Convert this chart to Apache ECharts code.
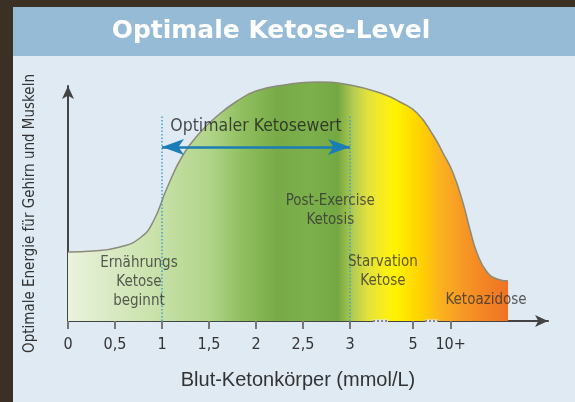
<!DOCTYPE html>
<html>
<head>
<meta charset="utf-8">
<script src="https://cdn.jsdelivr.net/npm/echarts@6/dist/echarts.min.js"></script>
<style>
html,body{margin:0;padding:0;background:#3a3124;}
#c{width:575px;height:402px;}
</style>
</head>
<body>
<div id="c"></div>
<script>
// ---- data ----
const titleText = 'Optimale Ketose-Level';
const xAxisName = 'Blut-Ketonkörper (mmol/L)';
const yAxisName = 'Optimale Energie für Gehirn und Muskeln';
// tick positions on the (non-linear) axis and their labels
const tickPos = [0, 0.5, 1, 1.5, 2, 2.5, 3, 3.67, 4.07];
const tickLabels = ['0', '0,5', '1', '1,5', '2', '2,5', '3', '5', '10+'];
// energy curve (axis position, relative energy)
const curveX = [0, 0.266, 0.553, 0.766, 0.904, 1.053, 1.223, 1.400, 1.600, 1.800, 2.000, 2.300, 2.649, 3.0, 3.351, 3.532, 3.713, 3.883, 3.989, 4.096, 4.202, 4.277, 4.351, 4.457, 4.564, 4.681];
const curveY = [69, 70, 74, 83, 99, 133, 166, 188, 206, 220, 230, 236, 239, 236, 227, 219, 208, 186, 168, 148, 118, 91, 68, 49, 42, 40];
// optimal range
const optimalRange = [1, 3];
const optimalLabel = 'Optimaler Ketosewert';
const rangeTop = 206;
const arrowLevel = 174;
// axis break markers
const breaks = [[3.245, 3.404], [3.798, 3.936]];
// zone annotations
const zoneText = ['Ernährungs\nKetose\nbeginnt', 'Post-Exercise\nKetosis', 'Starvation\nKetose', 'Ketoazidose'];
const zoneX = [0.755, 2.79, 3.35, 4.447];
const zoneY = [39, 110, 49, 21];

const FONT = '"Liberation Sans Narrow", "DejaVu Sans Condensed", "Liberation Sans", sans-serif';

const chart = echarts.init(document.getElementById('c'));

const curveData = curveX.map((x, i) => [x, curveY[i]]);

const series = [
  {
    type: 'line',
    data: curveData,
    smooth: 0.5,
    symbol: 'none',
    clip: false,
    z: 2,
    lineStyle: { color: '#8c8a78', width: 1.5 },
    areaStyle: {
      opacity: 1,
      color: new echarts.graphic.LinearGradient(0, 0, 1, 0, [
        { offset: 0, color: '#eaf2dc' },
        { offset: 0.214, color: '#c6e0a6' },
        { offset: 0.323, color: '#b0d488' },
        { offset: 0.399, color: '#8fbe5e' },
        { offset: 0.476, color: '#78ab47' },
        { offset: 0.551, color: '#7cb04c' },
        { offset: 0.613, color: '#74a842' },
        { offset: 0.649, color: '#b6cc52' },
        { offset: 0.681, color: '#e2e23c' },
        { offset: 0.722, color: '#fbee18' },
        { offset: 0.745, color: '#fff200' },
        { offset: 0.802, color: '#ffd200' },
        { offset: 0.847, color: '#fbb21e' },
        { offset: 0.893, color: '#f79a26' },
        { offset: 0.938, color: '#f48824' },
        { offset: 1, color: '#ef7322' }
      ])
    }
  }
];

optimalRange.forEach(v => {
  series.push({
    type: 'line',
    data: [[v, 0], [v, rangeTop]],
    symbol: 'none',
    z: 3,
    lineStyle: { color: '#3aa3cf', width: 1.5, type: [1.5, 2] }
  });
});

// double arrow
series.push({
  type: 'line',
  data: [],
  z: 4,
  markLine: {
    silent: true,
    symbol: ['arrow', 'arrow'],
    symbolSize: [12, 22],
    label: { show: false },
    lineStyle: { color: '#1a7db5', width: 2.5, type: 'solid' },
    data: [[{ coord: [optimalRange[0], arrowLevel] }, { coord: [optimalRange[1], arrowLevel] }]]
  }
});

// axis breaks
breaks.forEach(b => {
  series.push({
    type: 'line', data: [[b[0], 0], [b[1], 0]], symbol: 'none', z: 5, clip: false,
    lineStyle: { color: '#e0eaf3', width: 3 }
  });
  series.push({
    type: 'line', data: [[b[0], 0], [b[1], 0]], symbol: 'none', z: 6, clip: false,
    lineStyle: { color: '#8a8a8a', width: 2, type: [2, 2] }
  });
});

// annotations
series.push({
  type: 'scatter',
  symbolSize: 0,
  z: 7,
  clip: false,
  data: zoneX.map((x, i) => ({ value: [x, zoneY[i]], name: zoneText[i] })),
  label: {
    show: true,
    position: 'inside',
    formatter: p => p.name,
    fontFamily: FONT,
    fontSize: 15,
    lineHeight: 19,
    color: '#333',
    align: 'center',
    verticalAlign: 'middle'
  }
});
series.push({
  type: 'scatter',
  symbolSize: 0,
  z: 7,
  clip: false,
  data: [{ value: [(optimalRange[0] + optimalRange[1]) / 2, 195], name: optimalLabel }],
  label: {
    show: true,
    position: 'inside',
    formatter: p => p.name,
    fontFamily: FONT,
    fontSize: 17.5,
    color: '#1e1e1e',
    align: 'center',
    verticalAlign: 'middle'
  }
});

const option = {
  backgroundColor: '#3a3124',
  animation: false,
  graphic: [
    { type: 'rect', z: -10, shape: { x: 13, y: 7, width: 562, height: 395 }, style: { fill: '#e0eaf3' } },
    { type: 'rect', z: -9, shape: { x: 13, y: 7, width: 562, height: 49 }, style: { fill: '#96bbd6' } },
    { type: 'text', z: 10, x: 271, y: 31,
      style: { text: titleText, fill: '#ffffff', align: 'center', verticalAlign: 'middle',
               textAlign: 'center', textVerticalAlign: 'middle',
               font: 'bold 25px "DejaVu Sans", "Liberation Sans", Arial, sans-serif' } }
  ],
  grid: { left: 68, right: 27, top: 86, bottom: 81 },
  xAxis: {
    type: 'value',
    min: 0,
    max: 5.106,
    name: xAxisName,
    nameLocation: 'middle',
    nameGap: 49,
    nameTextStyle: { fontFamily: '"Liberation Sans", Arial, sans-serif', fontSize: 20, color: '#333', padding: [0, 20, 0, 0] },
    splitLine: { show: false },
    axisLine: { show: true, lineStyle: { color: '#444', width: 2 }, symbol: ['none', 'arrow'], symbolSize: [9, 13] },
    axisTick: { show: true, length: 8, lineStyle: { color: '#777', width: 2 }, customValues: tickPos },
    axisLabel: {
      customValues: tickPos,
      margin: 16,
      fontFamily: FONT,
      fontSize: 16,
      color: '#333',
      formatter: v => {
        const i = tickPos.findIndex(t => Math.abs(t - v) < 1e-6);
        return i >= 0 ? tickLabels[i] : '';
      }
    }
  },
  yAxis: {
    type: 'value',
    min: 0,
    max: 235,
    name: yAxisName,
    nameLocation: 'middle',
    nameGap: 30,
    nameRotate: 90,
    nameTextStyle: { fontFamily: FONT, fontSize: 15, color: '#333', padding: [0, 20, 0, 0] },
    splitLine: { show: false },
    axisTick: { show: false },
    axisLabel: { show: false },
    axisLine: { show: true, lineStyle: { color: '#444', width: 2 }, symbol: ['none', 'arrow'], symbolSize: [9, 13] }
  },
  series: series
};
chart.setOption(option);
</script>
</body>
</html>
